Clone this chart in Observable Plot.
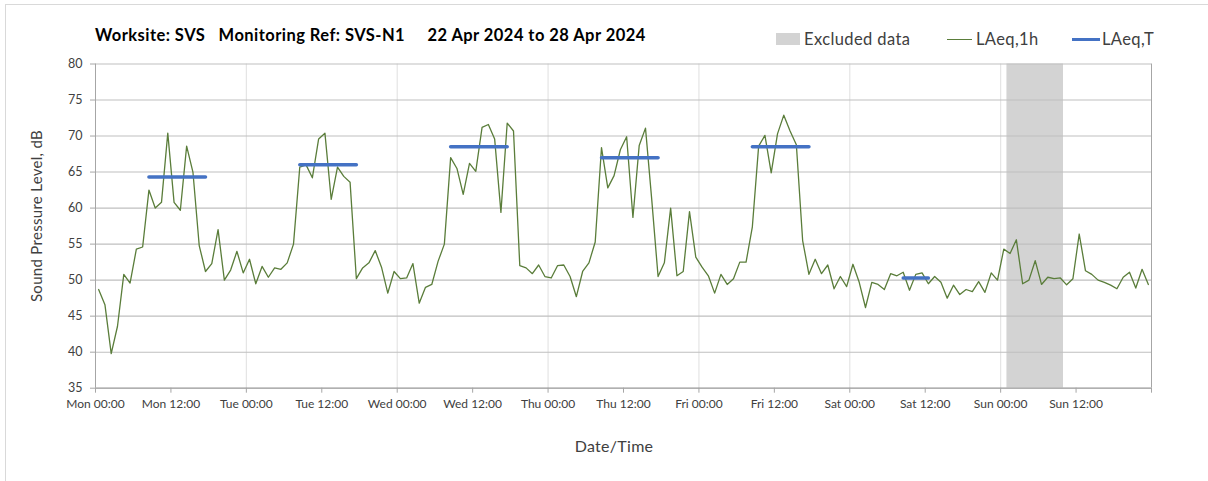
<!DOCTYPE html>
<html>
<head>
<meta charset="utf-8">
<script src="https://cdn.jsdelivr.net/npm/d3@7"></script>
<script src="https://cdn.jsdelivr.net/npm/@observablehq/plot@0.6"></script>
<style>
  html, body { margin: 0; padding: 0; background: #fff; }
  #wrap { position: relative; width: 1208px; height: 481px; overflow: hidden; font-family: Lato, "Open Sans", sans-serif; }
  #border { position: absolute; left: 5px; top: 4px; width: 1220px; height: 500px; border: 1px solid #d9d9d9; box-sizing: border-box; }
  #chart { position: absolute; left: 0; top: 0; }
  .abs { position: absolute; white-space: pre; line-height: 1; }
  #title { left: 95px; top: 27px; font-size: 16.5px; letter-spacing: 0.45px; font-weight: bold; color: #000; }
  .leg { font-size: 16.5px; letter-spacing: 0.4px; color: #404040; top: 31px; }
  .sw { position: absolute; }
  #ytitle { left: 36px; top: 216px; transform: translate(-50%, -50%) rotate(-90deg); font-size: 15px; letter-spacing: 0.3px; color: #404040; }
  #xtitle { left: 614px; top: 446px; transform: translate(-50%, -50%); font-size: 16px; letter-spacing: 0.3px; color: #404040; }
</style>
</head>
<body>
<div id="wrap">
  <div id="border"></div>
  <div id="chart"></div>
  <div id="title" class="abs">Worksite: SVS   Monitoring Ref: SVS-N1     22 Apr 2024 to 28 Apr 2024</div>
  <div class="sw" style="left:776px; top:33px; width:24px; height:12px; background:#d3d3d3;"></div>
  <div class="abs leg" style="left:804px;">Excluded data</div>
  <div class="sw" style="left:947px; top:39px; width:25px; height:1.3px; background:#5a7d3a;"></div>
  <div class="abs leg" style="left:976px;">LAeq,1h</div>
  <div class="sw" style="left:1072px; top:38px; width:28px; height:3px; background:#4472c4;"></div>
  <div class="abs leg" style="left:1102px;">LAeq,T</div>
  <div id="ytitle" class="abs">Sound Pressure Level, dB</div>
  <div id="xtitle" class="abs">Date/Time</div>
</div>
<script>
// ---- Data ----
const startDate = "2024-04-22T00:00:00Z";
const endDate = "2024-04-29T00:00:00Z";
const excludedStart = "2024-04-28T01:00:00Z";
const excludedEnd = "2024-04-28T10:00:00Z";

// Hourly LAeq,1h values (Mon 00:00 .. Sun 23:00)
const laeq1hMon = [48.7, 46.6, 39.8, 43.6, 50.8, 49.6, 54.3, 54.6, 62.5, 60.0, 60.8, 70.4, 60.8, 59.7, 68.6, 65.0, 54.8, 51.2, 52.3, 57.0, 50.0, 51.4, 54.0, 51.0];
const laeq1hTue = [52.9, 49.5, 51.9, 50.4, 51.7, 51.5, 52.4, 55.0, 65.7, 66.0, 64.2, 69.6, 70.4, 61.2, 65.7, 64.4, 63.6, 50.2, 51.7, 52.4, 54.1, 51.8, 48.2, 51.2];
const laeq1hWed = [50.2, 50.3, 52.3, 46.8, 49.0, 49.4, 52.6, 55.0, 67.0, 65.5, 61.9, 66.2, 65.1, 71.2, 71.6, 69.6, 59.4, 71.8, 70.7, 52.0, 51.7, 50.9, 52.1, 50.5];
const laeq1hThu = [50.3, 52.0, 52.1, 50.5, 47.7, 51.2, 52.4, 55.3, 68.4, 62.8, 64.5, 68.1, 69.9, 58.7, 68.7, 71.1, 61.1, 50.5, 52.4, 60.0, 50.6, 51.2, 59.5, 53.2];
const laeq1hFri = [51.8, 50.6, 48.2, 50.8, 49.4, 50.2, 52.5, 52.5, 57.4, 68.6, 70.1, 64.9, 70.3, 72.9, 70.7, 68.8, 55.5, 50.8, 52.9, 50.9, 52.1, 48.8, 50.5, 49.1];
const laeq1hSat = [52.2, 49.7, 46.2, 49.7, 49.4, 48.7, 50.9, 50.6, 51.1, 48.6, 50.8, 51.0, 49.5, 50.5, 49.7, 47.5, 49.3, 48.0, 48.7, 48.4, 49.8, 48.3, 51.0, 50.0];
const laeq1hSun = [54.3, 53.7, 55.6, 49.5, 50.0, 52.7, 49.4, 50.4, 50.2, 50.3, 49.35, 50.2, 56.4, 51.3, 50.8, 50.0, 49.7, 49.3, 48.8, 50.4, 51.1, 48.9, 51.5, 49.4];

// LAeq,T periods: day index, first hour, last hour, level
const periodDay = [0, 1, 2, 3, 4, 5];
const periodFirstHour = [8, 8, 8, 8, 8, 8];
const periodLastHour = [17, 17, 17, 17, 17, 12];
const periodLevel = [64.3, 66.0, 68.5, 67.0, 68.5, 50.3];

const yTicks = [35, 40, 45, 50, 55, 60, 65, 70, 75, 80];

// ---- Build tables ----
const t0 = new Date(startDate);
const t1 = new Date(endDate);
const HOUR = 3600 * 1000;
// each hourly value is plotted at the centre of its hour
const hourTime = (h) => new Date(t0.getTime() + (h + 0.5) * HOUR);

const allHourly = [].concat(laeq1hMon, laeq1hTue, laeq1hWed, laeq1hThu, laeq1hFri, laeq1hSat, laeq1hSun);
const hourly = allHourly.map((v, i) => ({time: hourTime(i), value: v}));

const periods = [];
periodDay.forEach((d, k) => {
  for (let h = periodFirstHour[k]; h <= periodLastHour[k]; h++) {
    periods.push({time: hourTime(d * 24 + h), value: periodLevel[k], period: k});
  }
});

const xTicks = d3.utcHour.every(12).range(t0, new Date(t1.getTime() + 1));
const midnights = d3.utcDay.range(new Date(t0.getTime() + 1), t1);
const fmt = d3.utcFormat("%a %H:%M");

const chart = Plot.plot({
  width: 1208,
  height: 481,
  marginLeft: 95,
  marginRight: 57,
  marginTop: 63.5,
  marginBottom: 93.3,
  style: {fontFamily: "Lato, 'Open Sans', sans-serif", background: "transparent"},
  x: {type: "utc", domain: [t0, t1]},
  y: {domain: [35, 80]},
  marks: [
    Plot.rect([{x1: new Date(excludedStart), x2: new Date(excludedEnd)}], {x1: "x1", x2: "x2", y1: 35, y2: 80, fill: "#d3d3d3"}),
    Plot.ruleX(midnights, {stroke: "#e4e4e4", strokeWidth: 1.2}),
    Plot.gridY(yTicks, {stroke: "#bfbfbf", strokeOpacity: 1, strokeWidth: 1.1}),
    Plot.ruleX([t0, t1], {stroke: "#a6a6a6"}),
    Plot.ruleY([35], {stroke: "#a6a6a6", strokeWidth: 1.3}),
    Plot.axisY(yTicks, {tickSize: 5, tickPadding: 8, stroke: "#a6a6a6", fill: "#404040", fontSize: 12.5, label: null}),
    Plot.axisX(xTicks, {tickSize: 5, tickPadding: 6, stroke: "#a6a6a6", fill: "#404040", fontSize: 12, label: null,
      tickFormat: (d) => (d.getTime() === t1.getTime() ? "" : fmt(d))}),
    Plot.line(hourly, {x: "time", y: "value", stroke: "#5a7d3a", strokeWidth: 1.3}),
    Plot.line(periods, {x: "time", y: "value", z: "period", stroke: "#4472c4", strokeWidth: 3.5, strokeLinecap: "round"})
  ]
});
document.getElementById("chart").appendChild(chart);
</script>
</body>
</html>
